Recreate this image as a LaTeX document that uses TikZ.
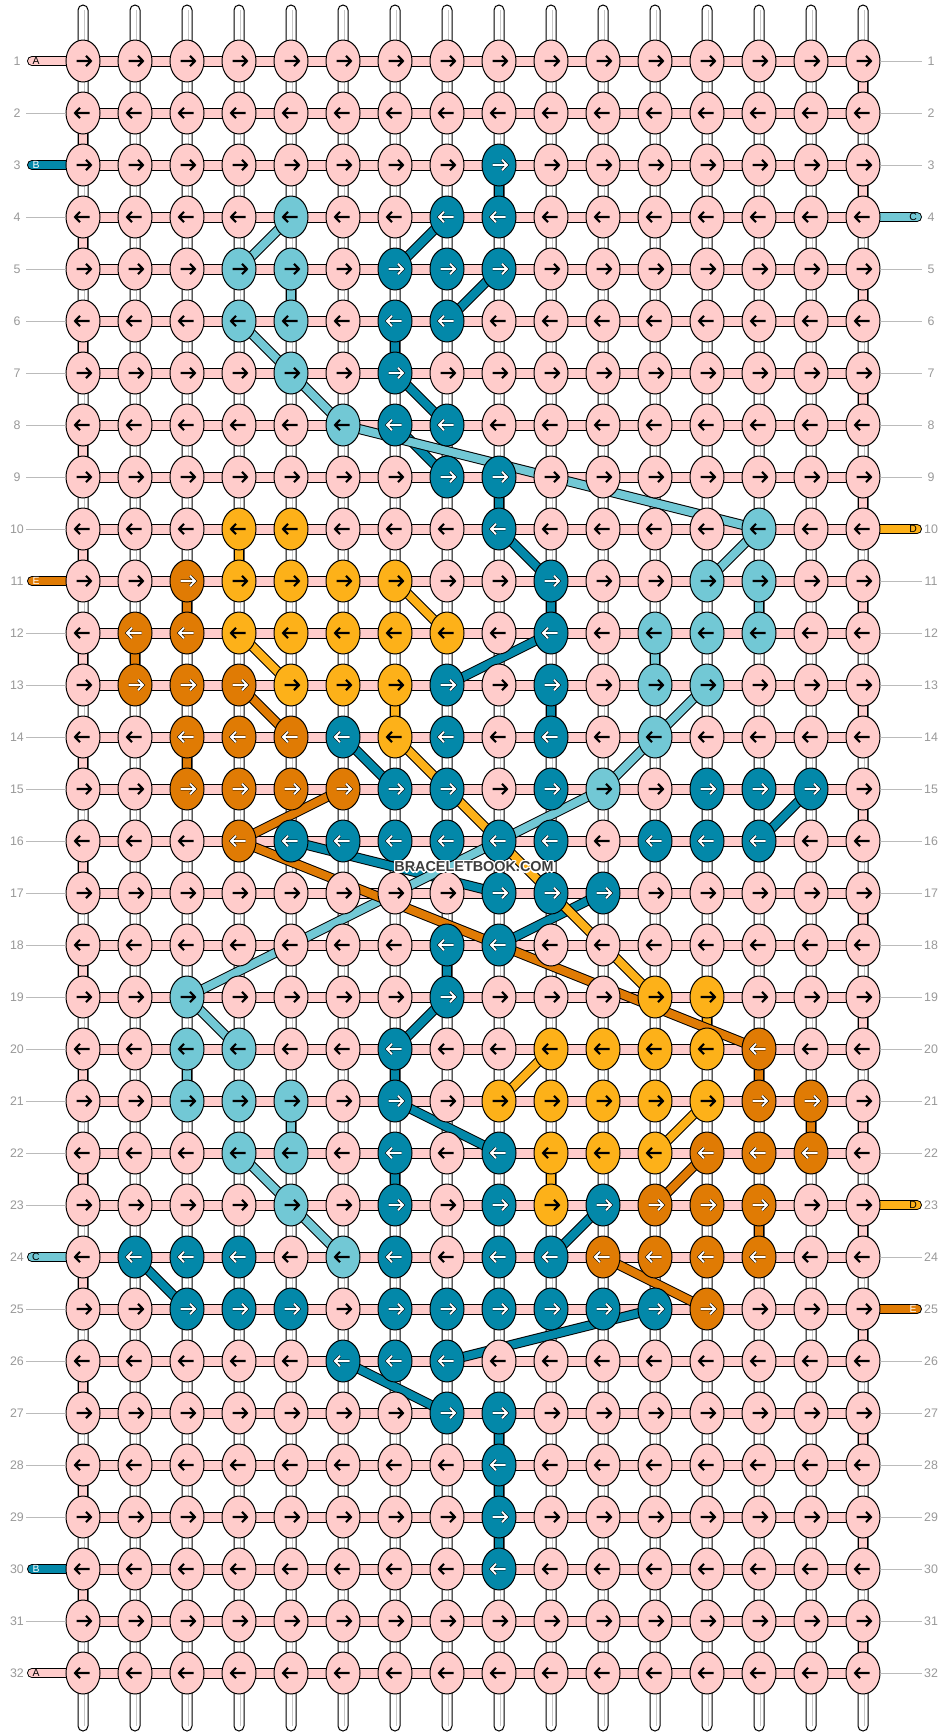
\documentclass[tikz,border=0pt]{standalone}
\usepackage{fontspec}
\setmainfont{Liberation Sans}
\usetikzlibrary{shapes.geometric}
\definecolor{pk}{HTML}{FFCCCB}
\definecolor{tl}{HTML}{0388A9}
\definecolor{lb}{HTML}{72C8D5}
\definecolor{yl}{HTML}{FDB119}
\definecolor{og}{HTML}{E07B04}
\definecolor{labgray}{HTML}{999999}
\definecolor{linegray}{HTML}{BBBBBB}
\definecolor{wmgray}{HTML}{3C3C3C}
\pgfdeclarelayer{bgl}
\pgfdeclarelayer{conl}
\pgfsetlayers{bgl,conl,main}
\tikzset{
  knot/.style={ellipse, draw=black, line width=0.5pt, minimum width=17pt, minimum height=21pt, inner sep=0pt, outer sep=0pt},
  kP/.style={knot, fill=pk}, kT/.style={knot, fill=tl}, kL/.style={knot, fill=lb},
  kY/.style={knot, fill=yl}, kO/.style={knot, fill=og},
  adark/.style={draw=black, line width=1.05pt, line join=miter},
  alight/.style={draw=black, line width=0.25pt, double=white, double distance=0.95pt, line join=miter},
  aP/.style={adark}, aL/.style={adark}, aY/.style={adark}, aT/.style={alight}, aO/.style={alight},
  conn/.style={draw=black, line width=0.5pt, double=#1, double distance=4pt},
  warp/.style={draw=black, line width=0.5pt, fill=white, rounded corners=2.5pt},
  warpln/.style={draw=black!22, line width=0.4pt},
  bar/.style={draw=black, line width=0.5pt, fill=pk},
  gline/.style={draw=linegray, line width=0.5pt},
  lab/.style={text=labgray, font=\fontsize{6.2pt}{7pt}\selectfont, inner sep=0pt},
  stublab/.style={font=\fontsize{5.2pt}{6pt}\selectfont, inner sep=0pt},
  wm/.style={font=\fontsize{7.2pt}{8pt}\selectfont\bfseries, inner sep=0pt}
}
\newcommand\krow[2]{%
  \foreach \kc [count=\cc] in {#2} {%
    \pgfmathsetmacro\kx{83+52*(\cc-1)}%
    \pgfmathsetmacro\ky{61+52*(#1-1)}%
    \node[k\kc] (k-#1-\cc) at (\kx,\ky) {};%
    \ifodd#1\relax\def\dirs{1}\else\def\dirs{-1}\fi
    \begin{scope}[shift={(\kx,\ky)}, xscale=\dirs]
      \draw[a\kc] (-6.5,0) -- (8,0) (3,-5.2) -- (8,0) -- (3,5.2);
    \end{scope}
  }%
}
\begin{document}
\begin{tikzpicture}[x=0.5pt,y=-0.5pt]
\useasboundingbox (0,0) rectangle (948,1736);
\begin{pgfonlayer}{bgl}
  \fill[white] (0,0) rectangle (948,1736);
  \foreach \c in {1,...,16}{
    \pgfmathsetmacro\wx{83+52*(\c-1)}
    \draw[warp] ({\wx-5},5) rectangle ({\wx+5},1731);
    \draw[warpln] ({\wx+1.5},10) -- ({\wx+1.5},1726);
  }
  \foreach \r in {1,...,32}{
    \pgfmathsetmacro\ry{61+52*(\r-1)}
    \draw[bar] (83,{\ry-5}) rectangle (863,{\ry+5});
  }
\end{pgfonlayer}

\krow{1}{P,P,P,P,P,P,P,P,P,P,P,P,P,P,P,P}
\krow{2}{P,P,P,P,P,P,P,P,P,P,P,P,P,P,P,P}
\krow{3}{P,P,P,P,P,P,P,P,T,P,P,P,P,P,P,P}
\krow{4}{P,P,P,P,L,P,P,T,T,P,P,P,P,P,P,P}
\krow{5}{P,P,P,L,L,P,T,T,T,P,P,P,P,P,P,P}
\krow{6}{P,P,P,L,L,P,T,T,P,P,P,P,P,P,P,P}
\krow{7}{P,P,P,P,L,P,T,P,P,P,P,P,P,P,P,P}
\krow{8}{P,P,P,P,P,L,T,T,P,P,P,P,P,P,P,P}
\krow{9}{P,P,P,P,P,P,P,T,T,P,P,P,P,P,P,P}
\krow{10}{P,P,P,Y,Y,P,P,P,T,P,P,P,P,L,P,P}
\krow{11}{P,P,O,Y,Y,Y,Y,P,P,T,P,P,L,L,P,P}
\krow{12}{P,O,O,Y,Y,Y,Y,Y,P,T,P,L,L,L,P,P}
\krow{13}{P,O,O,O,Y,Y,Y,T,P,T,P,L,L,P,P,P}
\krow{14}{P,P,O,O,O,T,Y,T,P,T,P,L,P,P,P,P}
\krow{15}{P,P,O,O,O,O,T,T,P,T,L,P,T,T,T,P}
\krow{16}{P,P,P,O,T,T,T,T,T,T,P,T,T,T,P,P}
\krow{17}{P,P,P,P,P,P,P,P,T,T,T,P,P,P,P,P}
\krow{18}{P,P,P,P,P,P,P,T,T,P,P,P,P,P,P,P}
\krow{19}{P,P,L,P,P,P,P,T,P,P,P,Y,Y,P,P,P}
\krow{20}{P,P,L,L,P,P,T,P,P,Y,Y,Y,Y,O,P,P}
\krow{21}{P,P,L,L,L,P,T,P,Y,Y,Y,Y,Y,O,O,P}
\krow{22}{P,P,P,L,L,P,T,P,T,Y,Y,Y,O,O,O,P}
\krow{23}{P,P,P,P,L,P,T,P,T,Y,T,O,O,O,P,P}
\krow{24}{P,T,T,T,P,L,T,P,T,T,O,O,O,O,P,P}
\krow{25}{P,P,T,T,T,P,T,T,T,T,T,T,O,P,P,P}
\krow{26}{P,P,P,P,P,T,T,T,P,P,P,P,P,P,P,P}
\krow{27}{P,P,P,P,P,P,P,T,T,P,P,P,P,P,P,P}
\krow{28}{P,P,P,P,P,P,P,P,T,P,P,P,P,P,P,P}
\krow{29}{P,P,P,P,P,P,P,P,T,P,P,P,P,P,P,P}
\krow{30}{P,P,P,P,P,P,P,P,T,P,P,P,P,P,P,P}
\krow{31}{P,P,P,P,P,P,P,P,P,P,P,P,P,P,P,P}
\krow{32}{P,P,P,P,P,P,P,P,P,P,P,P,P,P,P,P}

\begin{pgfonlayer}{conl}
  % pink background string turning at the edges
  \foreach \r in {2,4,...,30}{
    \pgfmathtruncatemacro\rn{\r+1}
    \draw[conn=pk] (k-\r-1.center) -- (k-\rn-1.center);
  }
  \foreach \r in {1,3,...,31}{
    \pgfmathtruncatemacro\rn{\r+1}
    \draw[conn=pk] (k-\r-16.center) -- (k-\rn-16.center);
  }
  % string B (teal)
  \foreach \a/\b/\c/\d in {3/9/4/9, 4/8/5/7, 5/9/6/8, 6/7/7/7, 7/7/8/8, 8/7/9/8, 9/9/10/9, 10/9/11/10, 11/10/12/10, 12/10/13/8, 13/10/14/10, 14/6/15/7, 15/15/16/14, 16/5/17/9, 17/11/18/9, 18/8/19/8, 19/8/20/7, 20/7/21/7, 21/7/22/9, 22/7/23/7, 23/11/24/10, 24/2/25/3, 25/12/26/8, 26/6/27/8, 27/9/28/9, 28/9/29/9, 29/9/30/9}
    \draw[conn=tl] (k-\a-\b.center) -- (k-\c-\d.center);
  % string C (light blue)
  \foreach \a/\b/\c/\d in {4/5/5/4, 5/5/6/5, 6/4/7/5, 7/5/8/6, 8/6/10/14, 10/14/11/13, 11/14/12/14, 12/12/13/12, 13/13/14/12, 14/12/15/11, 15/11/19/3, 19/3/20/4, 20/3/21/3, 21/5/22/5, 22/4/23/5, 23/5/24/6}
    \draw[conn=lb] (k-\a-\b.center) -- (k-\c-\d.center);
  % string D (yellow)
  \foreach \a/\b/\c/\d in {10/4/11/4, 11/7/12/8, 12/4/13/5, 13/7/14/7, 14/7/19/12, 19/13/20/13, 20/10/21/9, 21/13/22/12, 22/10/23/10}
    \draw[conn=yl] (k-\a-\b.center) -- (k-\c-\d.center);
  % string E (orange)
  \foreach \a/\b/\c/\d in {11/3/12/3, 12/2/13/2, 13/4/14/5, 14/3/15/3, 15/6/16/4, 16/4/20/14, 20/14/21/14, 21/15/22/15, 22/13/23/12, 23/14/24/14, 24/11/25/13}
    \draw[conn=og] (k-\a-\b.center) -- (k-\c-\d.center);
  % string ends on the left
  \foreach \r/\col in {1/pk, 3/tl, 11/og, 24/lb, 30/tl, 32/pk}{
    \pgfmathsetmacro\ry{61+52*(\r-1)}
    \coordinate (ls-\r) at (32,\ry);
    \draw[conn=\col, line cap=round] (ls-\r) -- (k-\r-1.center);
  }
  % string ends on the right
  \foreach \r/\col in {4/lb, 10/yl, 23/yl, 25/og}{
    \pgfmathsetmacro\ry{61+52*(\r-1)}
    \coordinate (rs-\r) at (917,\ry);
    \draw[conn=\col, line cap=round] (k-\r-16.center) -- (rs-\r);
  }
\end{pgfonlayer}

% string end letters
\foreach \r/\t/\tc in {1/A/black, 3/B/white, 11/E/white, 24/C/black, 30/B/white, 32/A/black}{
  \pgfmathsetmacro\ry{61+52*(\r-1)}
  \node[stublab, text=\tc] (lt-\r) at (36,\ry) {\t};
}
\foreach \r/\t/\tc in {4/C/black, 10/D/black, 23/D/black, 25/E/white}{
  \pgfmathsetmacro\ry{61+52*(\r-1)}
  \node[stublab, text=\tc] (rt-\r) at (913,\ry) {\t};
}

% row numbers
\foreach \r in {1,...,32}{
  \pgfmathsetmacro\ry{61+52*(\r-1)}
  \node[lab] (ln-\r) at (17,\ry) {\r};
  \node[lab] (rn-\r) at (931,\ry) {\r};
}
% thin guide lines
\foreach \r in {2,4,5,6,7,8,9,10,12,13,14,15,16,17,18,19,20,21,22,23,25,26,27,28,29,31}{
  \pgfmathsetmacro\ry{61+52*(\r-1)}
  \coordinate (lg-\r) at (26,\ry);
  \draw[gline] (lg-\r) -- (k-\r-1.west);
}
\foreach \r in {1,2,3,5,6,7,8,9,11,12,13,14,15,16,17,18,19,20,21,22,24,26,27,28,29,30,31,32}{
  \pgfmathsetmacro\ry{61+52*(\r-1)}
  \coordinate (rg-\r) at (922,\ry);
  \draw[gline] (k-\r-16.east) -- (rg-\r);
}

% watermark
\foreach \dx/\dy in {-1.4/0, 1.4/0, 0/-1.4, 0/1.4, -1/-1, 1/-1, -1/1, 1/1}{
  \node[wm, text=white] at (474+\dx,867+\dy) {BRACELETBOOK.COM};
}
\node[wm, text=wmgray] (wmark) at (474,867) {BRACELETBOOK.COM};
\end{tikzpicture}
\end{document}
